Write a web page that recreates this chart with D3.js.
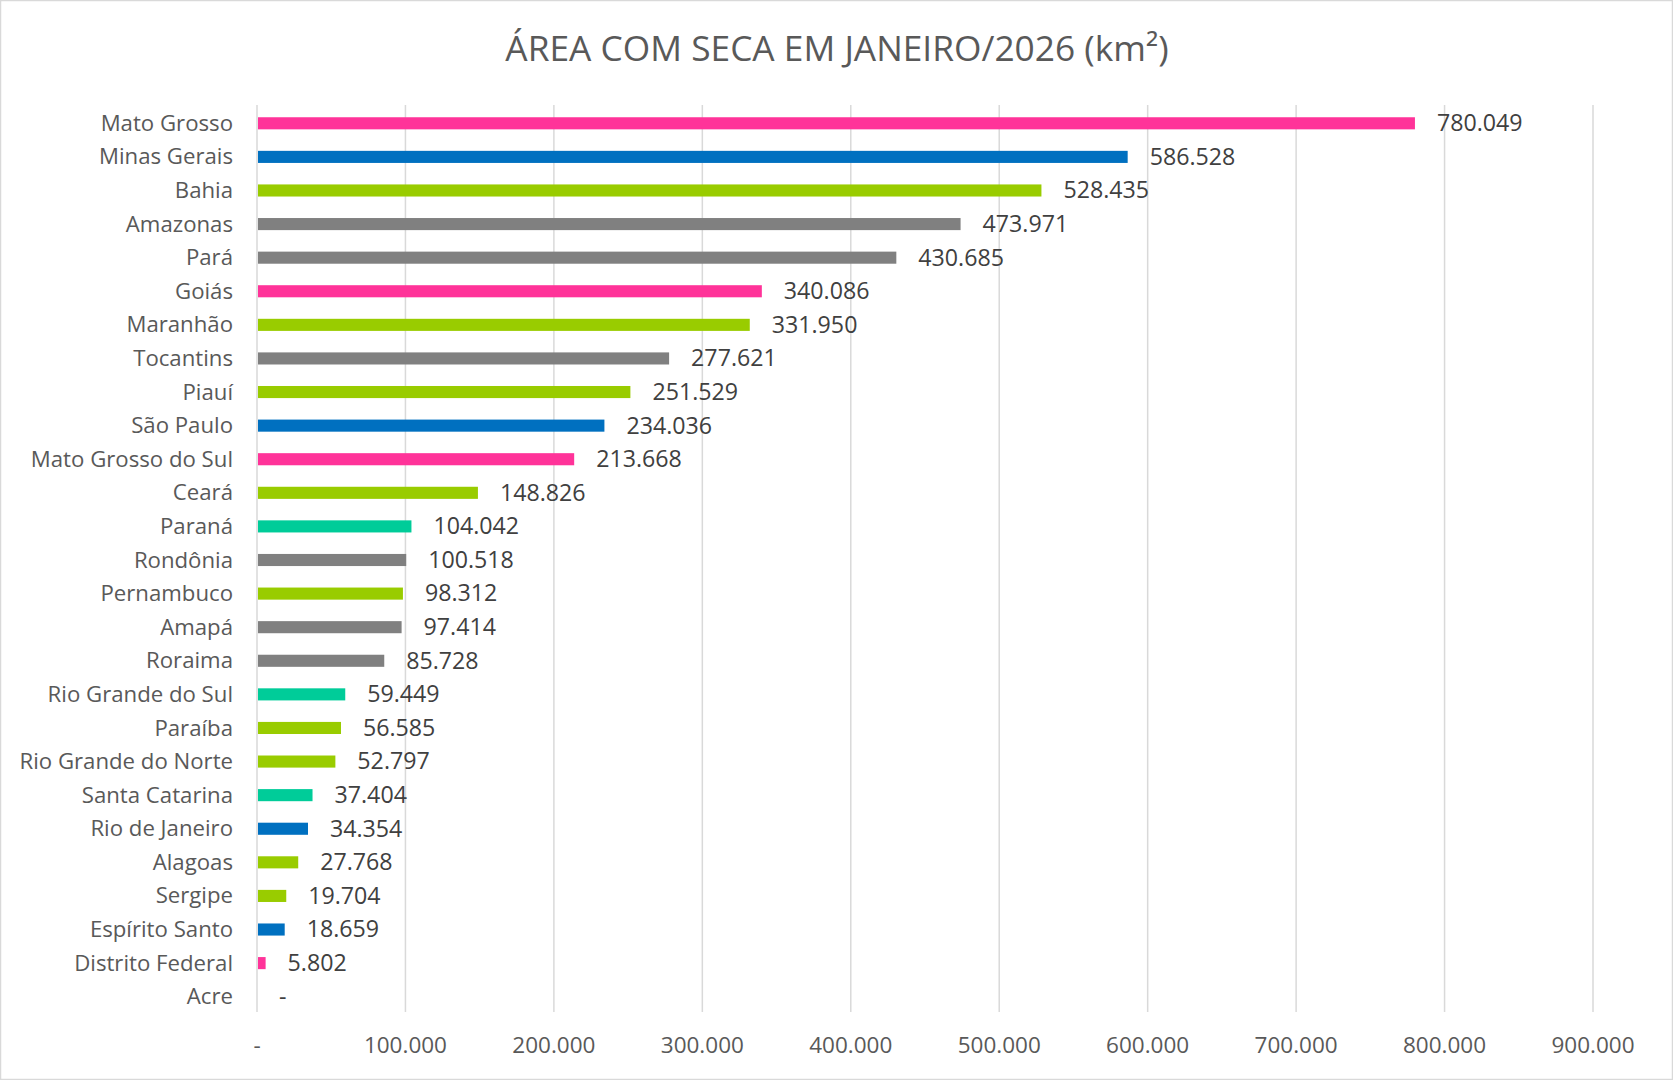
<!DOCTYPE html>
<html><head><meta charset="utf-8">
<script src="https://cdn.jsdelivr.net/npm/d3@7"></script>
<style>html,body{margin:0;padding:0;background:#fff;} svg{display:block;}</style>
</head><body>
<svg id="chart" width="1673" height="1080"></svg>
<script>
const categories = ["Mato Grosso","Minas Gerais","Bahia","Amazonas","Pará","Goiás","Maranhão","Tocantins","Piauí","São Paulo","Mato Grosso do Sul","Ceará","Paraná","Rondônia","Pernambuco","Amapá","Roraima","Rio Grande do Sul","Paraíba","Rio Grande do Norte","Santa Catarina","Rio de Janeiro","Alagoas","Sergipe","Espírito Santo","Distrito Federal","Acre"];
const values = [780049,586528,528435,473971,430685,340086,331950,277621,251529,234036,213668,148826,104042,100518,98312,97414,85728,59449,56585,52797,37404,34354,27768,19704,18659,5802,0];
const regions = ["CO","SE","NE","N","N","CO","NE","N","NE","SE","CO","NE","S","N","NE","N","N","S","NE","NE","S","SE","NE","NE","SE","CO","N"];
const regionColors = {CO:"#FF3399", SE:"#0070C0", NE:"#99CC00", N:"#808080", S:"#00CC99"};
const tickValues = [0,100000,200000,300000,400000,500000,600000,700000,800000,900000];
const title = "ÁREA COM SECA EM JANEIRO/2026 (km²)";

const fmt = d3.formatLocale({decimal:",", thousands:".", grouping:[3], currency:["",""]}).format(",d");
const label = v => v === 0 ? "-" : fmt(v);

const svg = d3.select("#chart");
const W = 1673, H = 1080;
const font = "'Open Sans', sans-serif";

svg.append("rect").attr("x",0.5).attr("y",0.5).attr("width",W-1).attr("height",H-1)
  .attr("fill","#fff").attr("stroke","#d9d9d9").attr("stroke-width",1.5);

const x = d3.scaleLinear().domain([0,900000]).range([257,1593]);
const y = d3.scaleBand().domain(categories).range([106.5,1013.5]).padding(0);
const barH = y.step()*0.36;

// gridlines
svg.append("g").selectAll("line").data(tickValues).join("line")
  .attr("x1",d=>x(d)).attr("x2",d=>x(d)).attr("y1",105).attr("y2",1012)
  .attr("stroke","#d9d9d9").attr("stroke-width",1.5);

// x tick labels
svg.append("g").selectAll("text").data(tickValues).join("text")
  .attr("x",d=>x(d)).attr("y",1053).attr("text-anchor","middle")
  .attr("font-family",font).attr("font-size",22.5).attr("fill","#595959")
  .text(d=>label(d));

// bars
const data = categories.map((c,i)=>({c, v:values[i], r:regions[i]}));
svg.append("g").selectAll("rect").data(data.filter(d=>d.v>0)).join("rect")
  .attr("x",x(0)+1).attr("y",d=>y(d.c)+y.bandwidth()/2-barH/2)
  .attr("width",d=>Math.max(0,x(d.v)-x(0)-1)).attr("height",barH)
  .attr("fill",d=>regionColors[d.r]);

// category labels
svg.append("g").selectAll("text").data(data).join("text")
  .attr("x",233).attr("y",d=>y(d.c)+y.bandwidth()/2).attr("dy","0.34em")
  .attr("text-anchor","end").attr("font-family",font).attr("font-size",22.2).attr("fill","#595959")
  .text(d=>d.c);

// value labels
svg.append("g").selectAll("text").data(data).join("text")
  .attr("x",d=>x(d.v)+22).attr("y",d=>y(d.c)+y.bandwidth()/2).attr("dy","0.34em")
  .attr("font-family",font).attr("font-size",23.2).attr("fill","#404040")
  .text(d=>label(d.v));

// title
svg.append("text").attr("x",837).attr("y",61).attr("text-anchor","middle")
  .attr("font-family",font).attr("font-size",35.3).attr("fill","#595959").text(title);
</script>
</body></html>
